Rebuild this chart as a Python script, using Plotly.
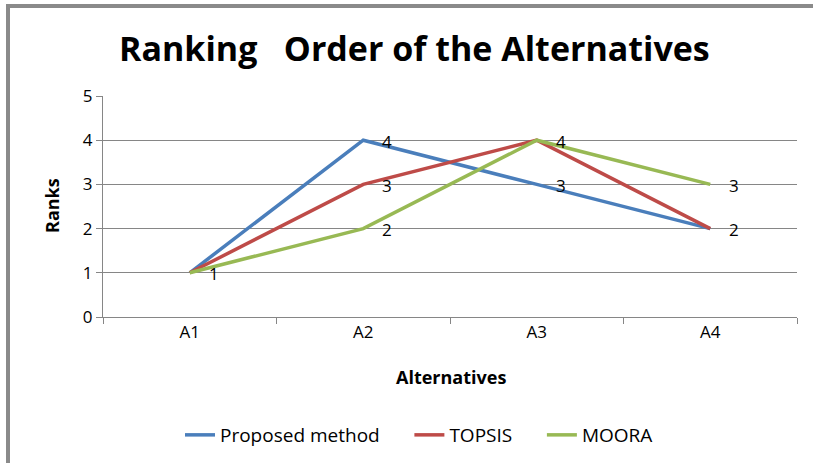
import plotly.graph_objects as go

categories = ["A1", "A2", "A3", "A4"]
proposed = [1, 4, 3, 2]
topsis = [1, 3, 4, 2]
moora = [1, 2, 4, 3]
series_names = ["Proposed method", "TOPSIS", "MOORA"]
colors = ["#4A7EBB", "#BE4B48", "#98B954"]
y_ticks = [0, 1, 2, 3, 4, 5]

W, H = 813, 463
L, R, T, B = 103, 16, 96, 146
pw, ph = W - L - R, H - T - B

def px_x(p):
    return (p - L) / pw

def px_y(p):
    return (H - B - p) / ph

FONT = "Open Sans"
PAD = "\u00a0" * 5
fig = go.Figure()
for i, (name, vals, c) in enumerate(zip(series_names, [proposed, topsis, moora], colors)):
    label = name + (PAD if i < len(series_names) - 1 else "")
    fig.add_trace(go.Scatter(x=categories, y=vals, mode="lines", name=label,
                             line=dict(color=c, width=3.5)))

annotations = []
seen = set()
for vals in [proposed, topsis, moora]:
    for cat, v in zip(categories, vals):
        if (cat, v) in seen:
            continue
        seen.add((cat, v))
        annotations.append(dict(x=cat, y=v, xref="x", yref="y", text=str(v),
                                showarrow=False, xanchor="center", yanchor="middle",
                                xshift=24, yshift=-1,
                                font=dict(family=FONT, size=17, color="#000000")))

annotations.append(dict(x=px_x(414), y=px_y(48), xref="paper", yref="paper",
                        text="<b>Ranking   Order of the Alternatives</b>", showarrow=False,
                        xanchor="center", yanchor="middle",
                        font=dict(family=FONT, size=34, color="#000000")))
annotations.append(dict(x=px_x(52), y=px_y(206), xref="paper", yref="paper",
                        text="<b>Ranks</b>", showarrow=False, textangle=-90,
                        xanchor="center", yanchor="middle",
                        font=dict(family=FONT, size=18, color="#000000")))
annotations.append(dict(x=px_x(451), y=px_y(377), xref="paper", yref="paper",
                        text="<b>Alternatives</b>", showarrow=False,
                        xanchor="center", yanchor="middle",
                        font=dict(family=FONT, size=18, color="#000000")))

shapes = [
    dict(type="rect", xref="paper", yref="paper", x0=px_x(6), x1=px_x(813), y0=px_y(8), y1=px_y(4),
         fillcolor="#8A8A8A", line=dict(width=0), layer="above"),
    dict(type="rect", xref="paper", yref="paper", x0=px_x(6), x1=px_x(10), y0=px_y(463), y1=px_y(4),
         fillcolor="#8A8A8A", line=dict(width=0), layer="above"),
]

fig.update_layout(
    width=W, height=H,
    margin=dict(l=L, r=R, t=T, b=B, pad=0, autoexpand=False),
    paper_bgcolor="white", plot_bgcolor="white",
    font=dict(family=FONT, size=16, color="#000000"),
    annotations=annotations, shapes=shapes,
    showlegend=True,
    legend=dict(orientation="h", x=px_x(419), y=px_y(435), xanchor="center", yanchor="middle",
                font=dict(family=FONT, size=19, color="#000000"), itemwidth=30,
                tracegroupgap=0),
    xaxis=dict(type="category", range=[-0.5, 3.5], showgrid=False, zeroline=False,
               showline=True, linecolor="#868686", linewidth=1,
               ticks="outside", tickson="boundaries", ticklen=6, tickcolor="#868686",
               tickfont=dict(family=FONT, size=17, color="#000000"), automargin=False),
    yaxis=dict(range=[0, 5], tickvals=y_ticks, showgrid=True, gridcolor="#868686", gridwidth=1,
               zeroline=False, showline=True, linecolor="#868686", linewidth=1,
               ticks="outside", ticklen=6, tickcolor="#868686",
               tickfont=dict(family=FONT, size=17, color="#000000"), automargin=False),
)

fig.write_html("out.html", config={"displayModeBar": False},
               post_script="document.body.style.margin='0px';document.body.style.overflow='hidden';")
